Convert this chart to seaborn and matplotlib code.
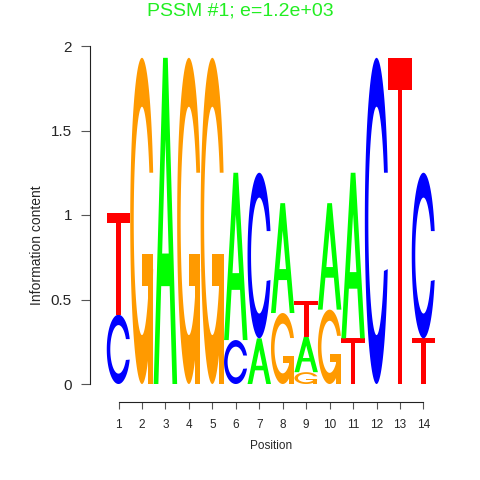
import numpy as np
import pandas as pd
import seaborn as sns
import matplotlib
matplotlib.use("Agg")
import matplotlib.pyplot as plt
from matplotlib.path import Path
from matplotlib.patches import PathPatch

# ---- data (bits per letter, per position) ----
positions = list(range(1, 15))
bits_A = [0.00, 0.00, 1.93, 0.00, 0.00, 0.99, 0.27, 0.65, 0.21, 0.63, 0.98, 0.00, 0.00, 0.00]
bits_C = [0.41, 0.00, 0.00, 0.00, 0.00, 0.26, 0.98, 0.00, 0.00, 0.00, 0.00, 1.93, 0.00, 0.98]
bits_G = [0.00, 1.93, 0.00, 1.93, 1.93, 0.00, 0.00, 0.42, 0.07, 0.44, 0.00, 0.00, 0.00, 0.00]
bits_T = [0.60, 0.00, 0.00, 0.00, 0.00, 0.00, 0.00, 0.00, 0.21, 0.00, 0.27, 0.00, 1.93, 0.27]
x_tick_labels = [str(p) for p in positions]
y_ticks = [0, 0.5, 1, 1.5, 2]
y_tick_labels = ["0", "0.5", "1", "1.5", "2"]
title = "PSSM #1; e=1.2e+03"

letter_colors = {"A": "#00FF00", "C": "#0000FF", "G": "#FF9A00", "T": "#FF0000"}

df = pd.DataFrame({"pos": positions, "A": bits_A, "C": bits_C, "G": bits_G, "T": bits_T})
long = df.melt(id_vars="pos", var_name="letter", value_name="bits")


# ---- unit-square letter shapes (seqLogo style) ----
def c_shape():
    a1 = np.linspace(0.3 + np.pi / 2, np.pi, 100)
    a2 = np.linspace(np.pi, 1.5 * np.pi, 100)
    xl = np.concatenate([0.5 + 0.5 * np.sin(a1), 0.5 + 0.5 * np.sin(a2)])
    yl = np.concatenate([0.5 + 0.5 * np.cos(a1), 0.5 + 0.5 * np.cos(a2)])
    x = np.concatenate([xl, xl[::-1]])
    y = np.concatenate([yl, 1 - yl[::-1]])
    hmax = (0.5 + 0.5 * np.cos(a1)).max()
    xi1 = 0.5 + 0.35 * np.sin(a1)
    yi1 = 0.5 + 0.35 * np.cos(a1)
    keep = yi1 <= hmax
    xi1, yi1 = xi1[keep], yi1[keep].copy()
    yi1[0] = hmax
    xi2 = 0.5 + 0.35 * np.sin(a2)
    yi2 = 0.5 + 0.35 * np.cos(a2)
    xi = np.concatenate([xi1, xi2])
    yi = np.concatenate([yi1, yi2])
    x1 = np.concatenate([xi, xi[::-1]])
    y1 = np.concatenate([yi, 1 - yi[::-1]])
    X = np.concatenate([x, x1[::-1]])
    Y = np.concatenate([y, y1[::-1]])
    r1 = (0.5 + 0.5 * np.sin(a1)).max()
    return [np.column_stack([X, Y])], r1


def shapes_for(letter):
    if letter == "A":
        outer = np.array([[0, 0], [0.4, 1], [0.6, 1], [1, 0], [0.8, 0], [0.68, 0.3],
                          [0.32, 0.3], [0.2, 0], [0, 0]])
        hole = np.array([[0.36, 0.4], [0.5, 0.75], [0.64, 0.4], [0.36, 0.4]])
        return [outer, hole]
    if letter == "C":
        return c_shape()[0]
    if letter == "G":
        polys, r1 = c_shape()
        h1 = 0.4
        bar = np.array([[r1, h1], [0.5, h1], [0.5, h1 - 0.1], [r1 - 0.2, h1 - 0.1],
                        [r1 - 0.2, 0], [r1, 0], [r1, h1]])
        return polys + [bar]
    if letter == "T":
        return [np.array([[0, 1], [1, 1], [1, 0.9], [0.6, 0.9], [0.6, 0],
                          [0.4, 0], [0.4, 0.9], [0, 0.9], [0, 1]])]


def draw_letter(ax, letter, xc, y0, h, width=1.0):
    polys = shapes_for(letter)
    col = letter_colors[letter]
    if letter == "A":
        outer, hole = polys
        for poly, fc in ((outer, col), (hole, "white")):
            verts = np.column_stack([xc - width / 2 + width * poly[:, 0], y0 + h * poly[:, 1]])
            ax.add_patch(PathPatch(Path(verts, closed=True), facecolor=fc,
                                   edgecolor="none", lw=0))
        return
    for poly in polys:
        verts = np.column_stack([xc - width / 2 + width * poly[:, 0], y0 + h * poly[:, 1]])
        ax.add_patch(PathPatch(Path(verts, closed=True), facecolor=col,
                               edgecolor="none", lw=0))


sns.set_style("ticks")
plt.rcParams["font.family"] = ["Liberation Sans", "DejaVu Sans"]

fig = plt.figure(figsize=(4.8, 4.8), dpi=100)
ax = fig.add_axes([100 / 480, 90 / 480, 340 / 480, 350 / 480])

for pos, grp in long.groupby("pos"):
    grp = grp[grp["bits"] > 0].sort_values("bits", kind="stable")
    y = 0.0
    for _, r in grp.iterrows():
        draw_letter(ax, r["letter"], pos, y, r["bits"])
        y += r["bits"]

ax.set_xlim(1 + (100 - 118.5) / 23.46, 1 + (440 - 118.5) / 23.46)
ax.set_ylim(-6 / 169, 344 / 169)

for s in ["top", "right"]:
    ax.spines[s].set_visible(False)
ax.spines["left"].set_position(("outward", 7.2))
ax.spines["bottom"].set_position(("outward", 8.6))
ax.spines["left"].set_bounds(0, 2)
ax.spines["bottom"].set_bounds(1, 14)
for s in ["left", "bottom"]:
    ax.spines[s].set_color("#222222")
    ax.spines[s].set_linewidth(0.8)

ax.set_xticks(positions)
ax.set_xticklabels(x_tick_labels, fontsize=8.5)
ax.set_yticks(y_ticks)
ax.set_yticklabels(y_tick_labels, fontsize=11)
ax.tick_params(axis="y", length=6.5, width=0.8, color="#555555", pad=6.5)
ax.tick_params(axis="x", length=5, width=0.8, color="#555555", pad=7)

fig.text(37 / 480, 1 - 245 / 480, "Information content", rotation=90,
         ha="center", va="center", fontsize=10)
fig.text(271 / 480, 1 - 446 / 480, "Position", ha="center", va="center", fontsize=8.5)
fig.text(240 / 480, 1 - 11 / 480, title, ha="center", va="center",
         fontsize=14, color="#22EE22")

fig.savefig("out.png", dpi=100)
